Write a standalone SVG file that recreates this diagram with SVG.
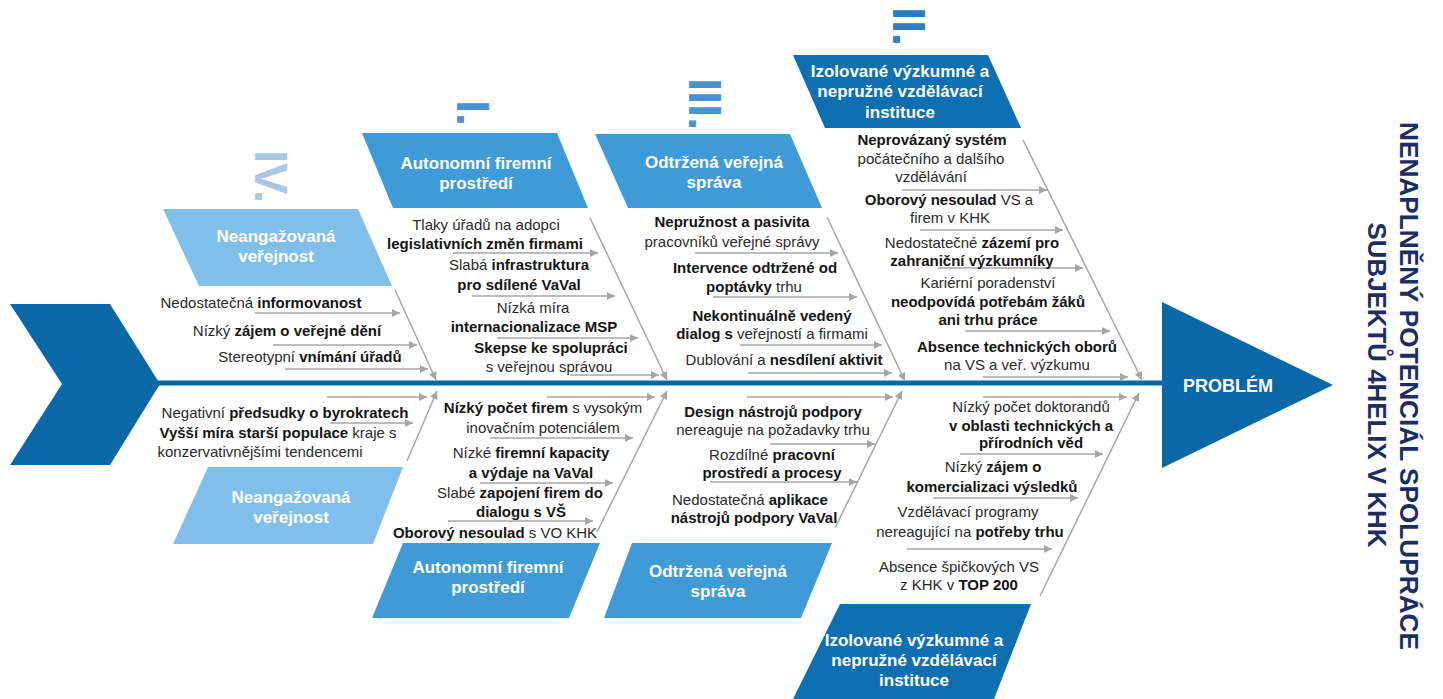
<svg xmlns="http://www.w3.org/2000/svg" width="1443" height="699" viewBox="0 0 1443 699">
<defs>
<marker id="ah" viewBox="0 0 10 10" refX="10" refY="5" markerWidth="10" markerHeight="8" orient="auto" markerUnits="userSpaceOnUse">
<path d="M0,0 L10,5 L0,10 z" fill="#a6a6a6"/>
</marker>
</defs>
<style>
.t{font-family:"Liberation Sans",Arial,sans-serif;font-size:15px;fill:#2a2a2a;text-anchor:middle}
.b{font-weight:bold;fill:#151515}
.bx{font-family:"Liberation Sans",Arial,sans-serif;font-size:17px;font-weight:bold;fill:#ffffff;text-anchor:middle}
.num{font-family:"Liberation Sans",Arial,sans-serif;font-size:47px;font-weight:bold}
.c{stroke:#a6a6a6;stroke-width:1.5;fill:none;marker-end:url(#ah)}
.light{fill:#7fbfe9}
.mid{fill:#3f9bd8}
.dark{fill:#0e6fb2}
.main{fill:#0b68a7}
</style>
<rect width="1443" height="699" fill="#ffffff"/>

<g id="tail"><polygon class="main" points="10,304 110,304 160,384 110,465 10,465 62,384"/></g>
<g id="spine"><line x1="158" y1="383" x2="1164" y2="383" stroke="#0b68a7" stroke-width="5"/></g>
<g id="head">
<polygon class="main" points="1162,302 1333,385 1162,468"/>
<text x="1228" y="392" font-family="Liberation Sans,Arial,sans-serif" font-size="18" font-weight="bold" fill="#ffffff" text-anchor="middle">PROBLÉM</text>
</g>
<g id="title" font-family="Liberation Sans,Arial,sans-serif" font-weight="bold" font-size="26" fill="#1c2d64" text-anchor="middle">
<text x="1400" y="386" transform="rotate(90 1400 386)" textLength="528" lengthAdjust="spacingAndGlyphs">NENAPLNĚNÝ POTENCIÁL SPOLUPRÁCE</text>
<text x="1368" y="385" transform="rotate(90 1368 385)" textLength="325" lengthAdjust="spacingAndGlyphs">SUBJEKTŮ 4HELIX V KHK</text>
</g>

<g id="numerals">
<text class="num" x="255" y="150" transform="rotate(90 255 150)" fill="#a9c7e7">IV.</text>
<text class="num" x="457" y="100" transform="rotate(90 457 100)" fill="#4a92d2">I.</text>
<text class="num" x="689" y="78" transform="rotate(90 689 78)" fill="#4a92d2">III.</text>
<text class="num" x="893" y="7" transform="rotate(90 893 7)" fill="#2c7cc2">II.</text>
</g>

<g id="connectors">
<line class="c" x1="395" y1="290" x2="436" y2="380"/>
<line class="c" x1="590" y1="218" x2="667" y2="380"/>
<line class="c" x1="827" y1="217" x2="905" y2="381"/>
<line class="c" x1="1023" y1="140" x2="1142" y2="380"/>
<line class="c" x1="407" y1="461" x2="437" y2="391"/>
<line class="c" x1="597" y1="532" x2="667" y2="391"/>
<line class="c" x1="835" y1="528" x2="902" y2="391"/>
<line class="c" x1="1040" y1="596" x2="1139" y2="393"/>

<line class="c" x1="255" y1="313" x2="400" y2="313"/>
<line class="c" x1="273" y1="345" x2="417" y2="345"/>
<line class="c" x1="285" y1="369" x2="428" y2="369"/>

<line class="c" x1="453" y1="253" x2="598" y2="253"/>
<line class="c" x1="472" y1="296" x2="615" y2="296"/>
<line class="c" x1="497" y1="338" x2="638" y2="338"/>
<line class="c" x1="570" y1="375" x2="659" y2="375"/>

<line class="c" x1="695" y1="253" x2="838" y2="253"/>
<line class="c" x1="713" y1="297" x2="857" y2="297"/>
<line class="c" x1="740" y1="345" x2="882" y2="345"/>
<line class="c" x1="748" y1="373" x2="892" y2="373"/>

<line class="c" x1="902" y1="190" x2="1047" y2="190"/>
<line class="c" x1="920" y1="230" x2="1063" y2="230"/>
<line class="c" x1="938" y1="268" x2="1083" y2="268"/>
<line class="c" x1="965" y1="331" x2="1110" y2="331"/>
<line class="c" x1="983" y1="377" x2="1128" y2="377"/>

<line class="c" x1="327" y1="397" x2="427" y2="397"/>
<line class="c" x1="330" y1="423" x2="413" y2="423"/>

<line class="c" x1="547" y1="397" x2="655" y2="397"/>
<line class="c" x1="490" y1="438" x2="633" y2="438"/>
<line class="c" x1="480" y1="483" x2="613" y2="483"/>
<line class="c" x1="448" y1="521" x2="593" y2="521"/>

<line class="c" x1="747" y1="397" x2="893" y2="397"/>
<line class="c" x1="770" y1="444" x2="875" y2="444"/>
<line class="c" x1="710" y1="482" x2="857" y2="482"/>

<line class="c" x1="983" y1="397" x2="1127" y2="397"/>
<line class="c" x1="960" y1="454" x2="1103" y2="454"/>
<line class="c" x1="933" y1="498" x2="1078" y2="498"/>
<line class="c" x1="907" y1="549" x2="1052" y2="549"/>
</g>

<g id="box-neang-top"><polygon class="light" points="163,209 358,209 392,286 199,286"/>
<text class="bx" x="276" y="242">Neangažovaná</text><text class="bx" x="276" y="262">veřejnost</text></g>
<g id="box-auton-top"><polygon class="mid" points="362,133 557,133 588,208 393,208"/>
<text class="bx" x="476" y="169">Autonomní firemní</text><text class="bx" x="476" y="189">prostředí</text></g>
<g id="box-odtrz-top"><polygon class="mid" points="595,134 790,134 822,208 628,208"/>
<text class="bx" x="714" y="168">Odtržená veřejná</text><text class="bx" x="714" y="188">správa</text></g>
<g id="box-izol-top"><polygon class="dark" points="793,55 988,55 1021,128 825,128"/>
<text class="bx" x="900" y="77">Izolované výzkumné a</text><text class="bx" x="900" y="97">nepružné vzdělávací</text><text class="bx" x="900" y="118">instituce</text></g>

<g id="box-neang-bottom"><polygon class="light" points="208,467 403,467 373,544 173,544"/>
<text class="bx" x="291" y="503">Neangažovaná</text><text class="bx" x="291" y="523">veřejnost</text></g>
<g id="box-auton-bottom"><polygon class="mid" points="403,543 600,543 569,618 372,618"/>
<text class="bx" x="488" y="573">Autonomní firemní</text><text class="bx" x="488" y="593">prostředí</text></g>
<g id="box-odtrz-bottom"><polygon class="mid" points="632,543 832,543 801,618 604,618"/>
<text class="bx" x="718" y="577">Odtržená veřejná</text><text class="bx" x="718" y="597">správa</text></g>
<g id="box-izol-bottom"><polygon class="dark" points="840,604 1031,604 994,699 793,699"/>
<text class="bx" x="914" y="646">Izolované výzkumné a</text><text class="bx" x="914" y="666">nepružné vzdělávací</text><text class="bx" x="914" y="686">instituce</text></g>

<g id="cause-n1"><text class="t" x="261" y="308">Nedostatečná <tspan class="b">informovanost</tspan></text></g>
<g id="cause-n2"><text class="t" x="287" y="336">Nízký <tspan class="b">zájem o veřejné dění</tspan></text></g>
<g id="cause-n3"><text class="t" x="310" y="362">Stereotypní <tspan class="b">vnímání úřadů</tspan></text></g>

<g id="cause-a1"><text class="t" x="486" y="230">Tlaky úřadů na adopci</text><text class="t b" x="485" y="249">legislativních změn firmami</text></g>
<g id="cause-a2"><text class="t" x="519" y="270">Slabá <tspan class="b">infrastruktura</tspan></text><text class="t b" x="519" y="290">pro sdílené VaVal</text></g>
<g id="cause-a3"><text class="t" x="533" y="313">Nízká míra</text><text class="t b" x="534" y="332">internacionalizace MSP</text></g>
<g id="cause-a4"><text class="t b" x="551" y="353">Skepse ke spolupráci</text><text class="t" x="549" y="372">s veřejnou správou</text></g>

<g id="cause-o1"><text class="t b" x="732" y="227">Nepružnost a pasivita</text><text class="t" x="732" y="247">pracovníků veřejné správy</text></g>
<g id="cause-o2"><text class="t b" x="755" y="273">Intervence odtržené od</text><text class="t" x="754" y="292"><tspan class="b">poptávky</tspan> trhu</text></g>
<g id="cause-o3"><text class="t b" x="772" y="321">Nekontinuálně vedený</text><text class="t" x="772" y="339"><tspan class="b">dialog s</tspan> veřejností a firmami</text></g>
<g id="cause-o4"><text class="t" x="784" y="365">Dublování a <tspan class="b">nesdílení aktivit</tspan></text></g>

<g id="cause-i1"><text class="t b" x="932" y="145">Neprovázaný systém</text><text class="t" x="931" y="164">počátečního a dalšího</text><text class="t" x="931" y="182">vzdělávání</text></g>
<g id="cause-i2"><text class="t" x="949" y="205"><tspan class="b">Oborový nesoulad</tspan> VS a</text><text class="t" x="950" y="223">firem v KHK</text></g>
<g id="cause-i3"><text class="t" x="972" y="248">Nedostatečné <tspan class="b">zázemí pro</tspan></text><text class="t b" x="972" y="266">zahraniční výzkumníky</text></g>
<g id="cause-i4"><text class="t" x="988" y="288">Kariérní poradenství</text><text class="t b" x="988" y="307">neodpovídá potřebám žáků</text><text class="t b" x="988" y="325">ani trhu práce</text></g>
<g id="cause-i5"><text class="t b" x="1017" y="352">Absence technických oborů</text><text class="t" x="1017" y="370">na VS a veř. výzkumu</text></g>

<g id="cause-nb1"><text class="t" x="285" y="418">Negativní <tspan class="b">předsudky o byrokratech</tspan></text></g>
<g id="cause-nb2"><text class="t" x="278" y="438"><tspan class="b">Vyšší míra starší populace</tspan> kraje s</text><text class="t" x="260" y="457">konzervativnějšími tendencemi</text></g>

<g id="cause-ab1"><text class="t" x="543" y="413"><tspan class="b">Nízký počet firem</tspan> s vysokým</text><text class="t" x="543" y="433">inovačním potenciálem</text></g>
<g id="cause-ab2"><text class="t" x="531" y="458">Nízké <tspan class="b">firemní kapacity</tspan></text><text class="t b" x="531" y="478">a výdaje na VaVal</text></g>
<g id="cause-ab3"><text class="t" x="520" y="498">Slabé <tspan class="b">zapojení firem do</tspan></text><text class="t b" x="521" y="517">dialogu s VŠ</text></g>
<g id="cause-ab4"><text class="t" x="495" y="538"><tspan class="b">Oborový nesoulad</tspan> s VO KHK</text></g>

<g id="cause-ob1"><text class="t b" x="773" y="417">Design nástrojů podpory</text><text class="t" x="773" y="435">nereaguje na požadavky trhu</text></g>
<g id="cause-ob2"><text class="t" x="772" y="460">Rozdílné <tspan class="b">pracovní</tspan></text><text class="t b" x="772" y="478">prostředí a procesy</text></g>
<g id="cause-ob3"><text class="t" x="750" y="505">Nedostatečná <tspan class="b">aplikace</tspan></text><text class="t b" x="754" y="523">nástrojů podpory VaVal</text></g>

<g id="cause-ib1"><text class="t" x="1031" y="412">Nízký počet doktorandů</text><text class="t b" x="1031" y="431">v oblasti technických a</text><text class="t b" x="1031" y="448">přírodních věd</text></g>
<g id="cause-ib2"><text class="t" x="993" y="472">Nízký <tspan class="b">zájem o</tspan></text><text class="t b" x="992" y="492">komercializaci výsledků</text></g>
<g id="cause-ib3"><text class="t" x="968" y="517">Vzdělávací programy</text><text class="t" x="970" y="537">nereagující na <tspan class="b">potřeby trhu</tspan></text></g>
<g id="cause-ib4"><text class="t" x="959" y="572">Absence špičkových VS</text><text class="t" x="959" y="590">z KHK v <tspan class="b">TOP 200</tspan></text></g>
</svg>
